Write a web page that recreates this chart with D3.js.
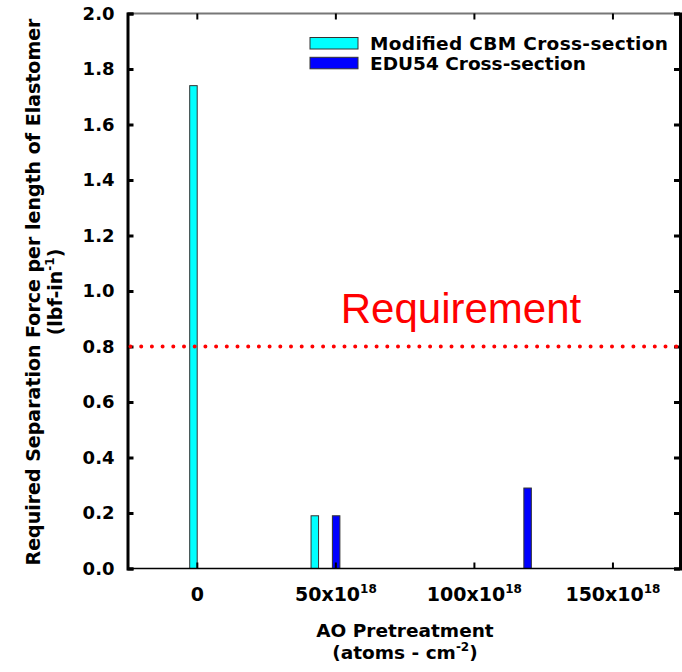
<!DOCTYPE html>
<html>
<head>
<meta charset="utf-8">
<script src="https://cdn.jsdelivr.net/npm/d3@7"></script>
<style>
  body { margin: 0; background: #fff; }
  svg { font-family: "DejaVu Sans", Verdana, sans-serif; }
</style>
</head>
<body>
<div id="chart"></div>
<script>
// data (x in units of 10^18 atoms/cm^2)
const cbmX = [-1.4, 42.4];
const cbmY = [1.74, 0.19];
const eduX = [50.1, 119.2];
const eduY = [0.19, 0.29];
const xTicks = [0, 50, 100, 150];
const yTicks = [0, 0.2, 0.4, 0.6, 0.8, 1.0, 1.2, 1.4, 1.6, 1.8, 2.0];
const requirement = 0.8;
const seriesNames = ["Modified CBM Cross-section", "EDU54 Cross-section"];
const seriesColors = ["#00ffff", "#0000ff"];

const width = 682;
const height = 672;
const margin = { top: 13.5, right: 2, bottom: 103.5, left: 127.5 };
const barW = 7.5;

const svg = d3.select("#chart").append("svg")
  .attr("width", width)
  .attr("height", height);

const x = d3.scaleLinear().domain([-25.2, 174.2]).range([margin.left, width - margin.right]);
const y = d3.scaleLinear().domain([0, 2]).range([height - margin.bottom, margin.top]);

const series = [
  cbmX.map((v, i) => ({ x: v, y: cbmY[i] })),
  eduX.map((v, i) => ({ x: v, y: eduY[i] }))
];

// bars
series.forEach((s, k) => {
  svg.append("g").selectAll("rect")
    .data(s)
    .join("rect")
    .attr("x", d => x(d.x) - barW / 2)
    .attr("y", d => y(d.y))
    .attr("width", barW)
    .attr("height", d => y(0) - y(d.y))
    .attr("fill", seriesColors[k])
    .attr("stroke", "#333")
    .attr("stroke-width", 1);
});

// frame: top (gray), bottom, left, right
const x0 = margin.left, x1 = width - margin.right;
const y0 = y(0), y1 = y(2);
svg.append("line").attr("x1", x0).attr("x2", x1).attr("y1", y1).attr("y2", y1)
  .attr("stroke", "#777").attr("stroke-width", 2);
svg.append("line").attr("x1", x0).attr("x2", x1).attr("y1", y0).attr("y2", y0)
  .attr("stroke", "#000").attr("stroke-width", 1.5);

// x ticks inward on top and bottom
svg.append("g").selectAll("line").data(xTicks).join("line")
  .attr("x1", d => x(d)).attr("x2", d => x(d))
  .attr("y1", y1).attr("y2", y1 + 6)
  .attr("stroke", "#000").attr("stroke-width", 2);
svg.append("g").selectAll("line").data(xTicks).join("line")
  .attr("x1", d => x(d)).attr("x2", d => x(d))
  .attr("y1", y0).attr("y2", y0 - 6)
  .attr("stroke", "#000").attr("stroke-width", 2);

// y axes: thick, ticks inward
const yAxisL = d3.axisRight(y).tickValues(yTicks).tickSize(6).tickFormat("");
const yAxisR = d3.axisLeft(y).tickValues(yTicks).tickSize(6).tickFormat("");
const gl = svg.append("g").attr("transform", `translate(${x0},0)`).call(yAxisL);
const gr = svg.append("g").attr("transform", `translate(${x1},0)`).call(yAxisR);
[gl, gr].forEach(g => {
  g.select(".domain").attr("stroke-width", 3).attr("stroke", "#000");
  g.selectAll(".tick line").attr("stroke-width", 3).attr("stroke", "#000");
});

// y tick labels
svg.append("g").selectAll("text").data(yTicks).join("text")
  .attr("x", x0 - 13)
  .attr("y", d => y(d))
  .attr("dy", "0.36em")
  .attr("text-anchor", "end")
  .attr("font-size", 18)
  .attr("font-weight", "bold")
  .text(d => d3.format(".1f")(d));

// x tick labels with superscript
const xl = svg.append("g").selectAll("text").data(xTicks).join("text")
  .attr("x", d => x(d))
  .attr("y", 601)
  .attr("text-anchor", "middle")
  .attr("font-size", 19)
  .attr("font-weight", "bold");
xl.each(function (d) {
  const t = d3.select(this);
  if (d === 0) { t.text("0"); return; }
  t.append("tspan").text(d + "x10");
  t.append("tspan").attr("dy", -8).attr("font-size", 12).text("18");
});

// requirement line
svg.append("line")
  .attr("x1", x0 + 3).attr("x2", x1)
  .attr("y1", y(requirement)).attr("y2", y(requirement))
  .attr("stroke", "#ff0000").attr("stroke-width", 4)
  .attr("stroke-linecap", "round")
  .attr("stroke-dasharray", "0,10.7");
svg.append("text")
  .attr("x", 461).attr("y", 323)
  .attr("text-anchor", "middle")
  .attr("font-family", "'Liberation Sans', Arial, sans-serif")
  .attr("font-size", 42)
  .attr("fill", "#ff0000")
  .text("Requirement");

// legend
const leg = svg.append("g");
seriesNames.forEach((name, i) => {
  leg.append("rect")
    .attr("x", 310).attr("y", 37.5 + i * 19.8)
    .attr("width", 48).attr("height", 11.5)
    .attr("fill", seriesColors[i])
    .attr("stroke", "#333").attr("stroke-width", 1);
  leg.append("text")
    .attr("x", 370).attr("y", 50 + i * 20)
    .attr("font-size", 18.5)
    .attr("font-weight", "bold")
    .attr("textLength", i === 0 ? 298 : null)
    .text(name);
});

// axis titles
svg.append("text")
  .attr("x", 405).attr("y", 637)
  .attr("text-anchor", "middle")
  .attr("font-size", 18.5)
  .attr("font-weight", "bold")
  .text("AO Pretreatment");
const xt2 = svg.append("text")
  .attr("x", 405).attr("y", 659)
  .attr("text-anchor", "middle")
  .attr("font-size", 18.5)
  .attr("font-weight", "bold");
xt2.append("tspan").text("(atoms - cm");
xt2.append("tspan").attr("dy", -8).attr("font-size", 12).text("-2");
xt2.append("tspan").attr("dy", 8).text(")");

svg.append("text")
  .attr("transform", "translate(40,292) rotate(-90)")
  .attr("text-anchor", "middle")
  .attr("font-size", 19)
  .attr("font-weight", "bold")
  .text("Required Separation Force per length of Elastomer");
const yt2 = svg.append("text")
  .attr("transform", "translate(62,292) rotate(-90)")
  .attr("text-anchor", "middle")
  .attr("font-size", 19)
  .attr("font-weight", "bold");
yt2.append("tspan").text("(lbf-in");
yt2.append("tspan").attr("dy", -8).attr("font-size", 12).text("-1");
yt2.append("tspan").attr("dy", 8).text(")");
</script>
</body>
</html>
